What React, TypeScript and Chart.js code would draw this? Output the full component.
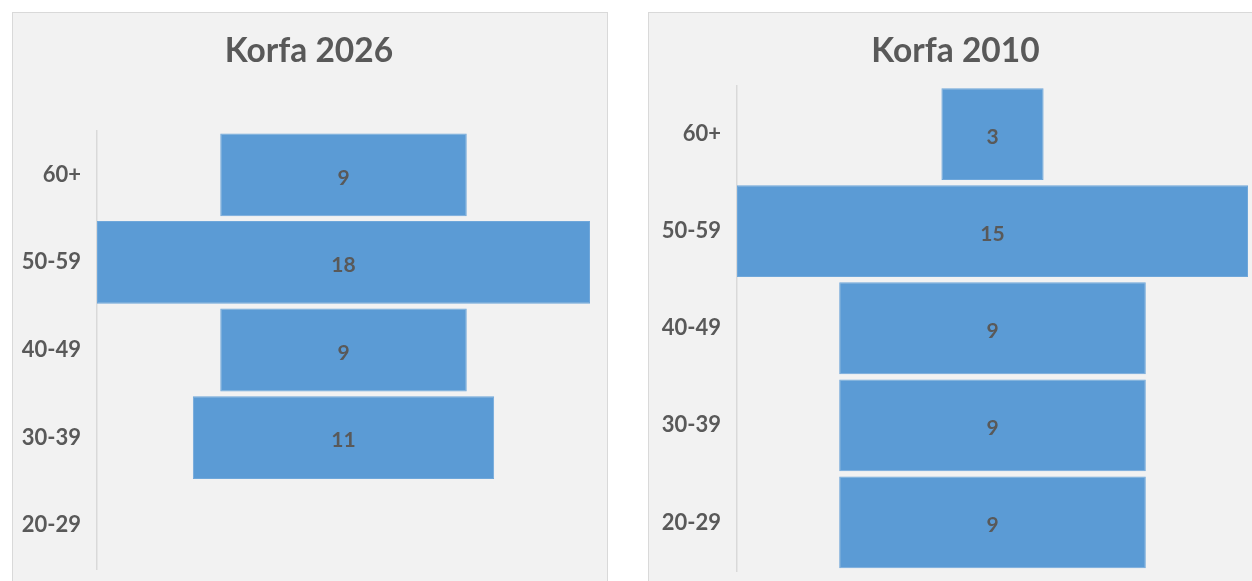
import React, { useEffect, useRef } from "react";
import { Chart, registerables } from "chart.js";

Chart.register(...registerables);

const categories = ["60+", "50-59", "40-49", "30-39", "20-29"];
const values2026 = [9, 18, 9, 11, 0];
const values2010 = [3, 15, 9, 9, 9];
const title2026 = "Korfa 2026";
const title2010 = "Korfa 2010";

const TEXT = "#595959";
const BAR = "#5b9bd5";
const FONT = "Lato, 'Open Sans', sans-serif";

const centerLabels = {
  id: "centerLabels",
  afterDatasetsDraw(chart: any, _args: any, opts: any) {
    const ctx = chart.ctx;
    const meta = chart.getDatasetMeta(0);
    const vals: number[] = opts.values || [];
    ctx.save();
    ctx.font = `bold ${opts.size || 21}px ${FONT}`;
    ctx.fillStyle = TEXT;
    ctx.textAlign = "center";
    ctx.textBaseline = "middle";
    meta.data.forEach((el: any, i: number) => {
      const v = vals[i];
      if (!v) return;
      const p = el.getProps(["x", "y", "base"], true);
      ctx.fillText(String(v), (p.x + p.base) / 2, p.y + 3);
    });
    ctx.restore();
  },
};

const panelTitle = {
  id: "panelTitle",
  afterDraw(chart: any, _args: any, opts: any) {
    const ctx = chart.ctx;
    ctx.save();
    ctx.font = `bold ${opts.size}px ${FONT}`;
    ctx.fillStyle = TEXT;
    ctx.textAlign = "center";
    ctx.textBaseline = "alphabetic";
    ctx.fillText(opts.text, opts.x, opts.y);
    ctx.restore();
  },
};

type PanelProps = {
  left: number;
  width: number;
  title: string;
  values: number[];
  titleX: number;
  topPad: number;
  axisWidth: number;
  rightPad: number;
  bottomPad: number;
};

function Panel(props: PanelProps) {
  const ref = useRef<HTMLCanvasElement | null>(null);
  const H = 578;
  useEffect(() => {
    if (!ref.current) return;
    const maxV = Math.max(...props.values);
    const chart = new Chart(ref.current, {
      type: "bar",
      data: {
        labels: categories,
        datasets: [
          {
            data: props.values.map((v) => [-v / 2, v / 2]) as any,
            backgroundColor: BAR,
            borderColor: "#6fa7da",
            borderWidth: 1,
            borderSkipped: false,
            barPercentage: 0.945,
            categoryPercentage: 1,
          },
        ],
      },
      options: {
        indexAxis: "y",
        animation: false,
        responsive: false,
        maintainAspectRatio: false,
        layout: {
          padding: { left: 0, right: props.rightPad, top: props.topPad, bottom: props.bottomPad },
        },
        scales: {
          x: { display: false, min: -maxV / 2, max: maxV / 2 },
          y: {
            grid: { display: true, color: "transparent", drawTicks: false },
            border: { display: true, color: "#d9d9d9", width: 1.5 },
            ticks: {
              color: TEXT,
              font: { family: FONT, size: 22, weight: "bold" },
              padding: 16,
            },
            afterFit: (s: any) => {
              s.width = props.axisWidth;
              s.paddingTop = 0;
              s.paddingBottom = 0;
            },
          } as any,
        },
        plugins: {
          legend: { display: false },
          tooltip: { enabled: false },
          title: { display: false },
          panelTitle: { text: props.title, x: props.titleX, y: 48.7, size: 33.5 },
          centerLabels: { values: props.values, size: 21 },
        } as any,
      },
      plugins: [centerLabels, panelTitle],
    });
    return () => chart.destroy();
  }, []);
  return (
    <div
      style={{
        position: "absolute",
        left: props.left,
        top: 12,
        width: props.width,
        height: H,
        background: "#f2f2f2",
        border: "1px solid #d9d9d9",
      }}
    >
      <canvas ref={ref} width={props.width} height={H} style={{ display: "block", width: props.width, height: H }} />
    </div>
  );
}

export default function App() {
  return (
    <div
      style={{
        position: "fixed",
        left: 0,
        top: 0,
        width: 1252,
        height: 581,
        overflow: "hidden",
        background: "#ffffff",
      }}
    >
      <Panel left={12} width={594} title={title2026} values={values2026} titleX={296} topPad={118} axisWidth={84} rightPad={17} bottomPad={22} />
      <Panel left={648} width={608} title={title2010} values={values2010} titleX={306.5} topPad={72.5} axisWidth={88} rightPad={9} bottomPad={20} />
    </div>
  );
}
